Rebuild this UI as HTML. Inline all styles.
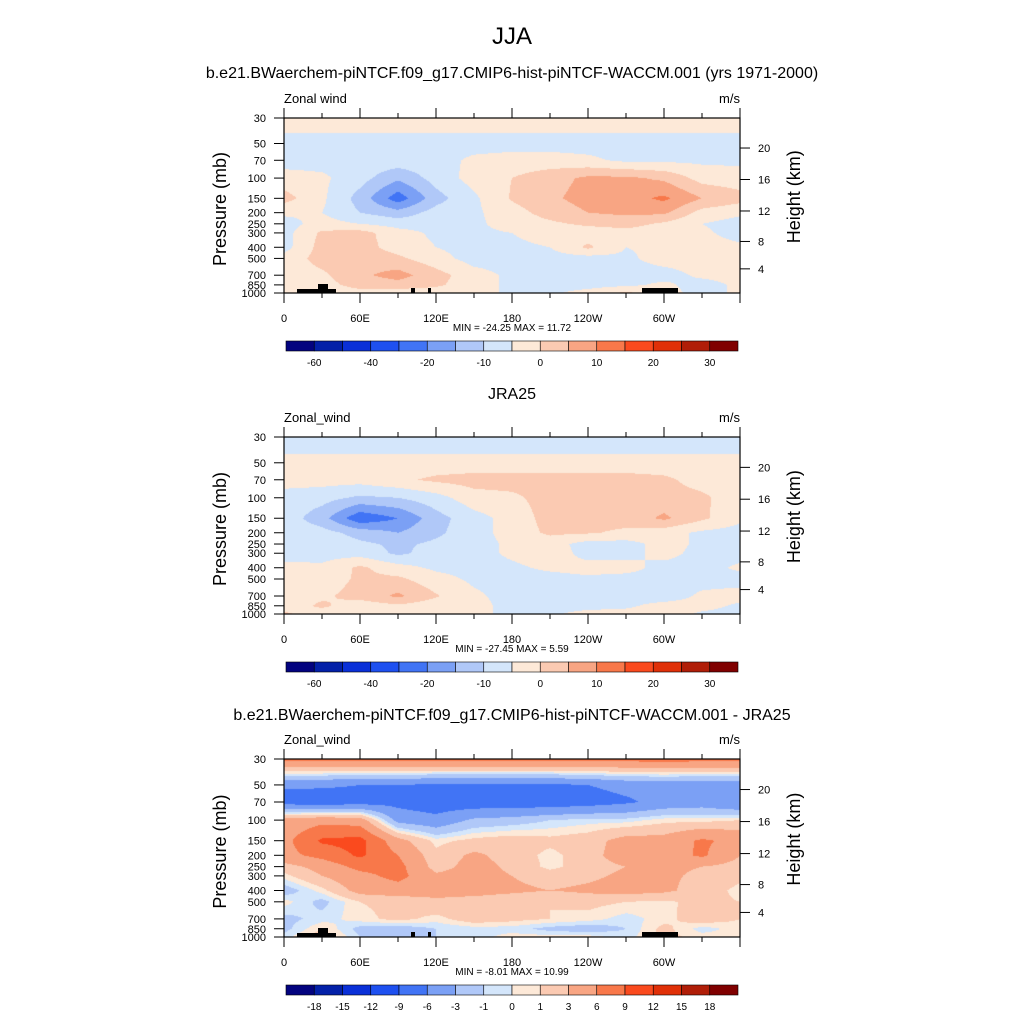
<!DOCTYPE html>
<html><head><meta charset="utf-8">
<style>
html,body{margin:0;padding:0;background:#fff;width:1024px;height:1024px;overflow:hidden}
#root{position:relative;width:1024px;height:1024px}
canvas{position:absolute}
svg{position:absolute;left:0;top:0}
text{font-family:"Liberation Sans",sans-serif;fill:#000}
</style></head>
<body>
<div id="root">
<canvas id="c1" width="456" height="175" style="left:284px;top:118px"></canvas>
<canvas id="c2" width="456" height="177" style="left:284px;top:437px"></canvas>
<canvas id="c3" width="456" height="178" style="left:284px;top:759px"></canvas>
<svg id="svg" width="1024" height="1024"></svg>
</div>
<script>
const LEVELS=[30,50,70,100,150,200,250,300,400,500,700,850,1000];
const LONS=[0,30,60,90,120,150,180,210,240,270,300,330,360];
const XTICKS=[0,60,120,180,240,300];
const XLABELS=["0","60E","120E","180","120W","60W"];
const PTICKS=[30,50,70,100,150,200,250,300,400,500,700,850,1000];
const ZTICKS=[4,8,12,16,20];
const BOUNDS_FULL=[-60,-50,-40,-30,-20,-15,-10,-5,0,5,10,15,20,25,30];
const LABELS_FULL=["-60","","-40","","-20","","-10","","0","","10","","20","","30"];
const BOUNDS_DIFF=[-18,-15,-12,-9,-6,-3,-1,0,1,3,6,9,12,15,18];
const LABELS_DIFF=["-18","-15","-12","-9","-6","-3","-1","0","1","3","6","9","12","15","18"];
const COLORS=["#03037f","#0320a8","#0a30d8","#1e50f0","#4174f5","#7ba0f5","#b0c8f8","#d4e6fb","#fde9d8","#fbcab2","#f8a583","#f8784a","#fa4a1e","#e03008","#b01e08","#800000"];
const uModel=[
[-2,-2,-2,-2,-2,-2,-2,-2,-2,-2,-2,-2,-2],
[-7,-7,-7,-7,-7,-7,-7,-7,-7,-7,-7,-7,-7],
[-7,-7,-7,-7,-7,-4,-3,-3,-4,-6,-6,-6,-6],
[-3,-4,-8,-14,-8,-3,0,3,6,6,4,-2,-3],
[2,-4,-12,-23,-12,-6,0.5,4,7,8,11,5,2],
[-4,-5,-10,-13,-8,-6,-2,2,5,6,6,-2,-4],
[-7,-3,-5,-7,-7,-6,-3,-1,1,2,-1,-5,-7],
[-7,1,2,-3,-6,-6,-5,-3,-3,-2,-3,-4,-7],
[-7,2,2,-2,-5,-7,-6,-5,1,-5,-4,-3,-4],
[-3,2,3,1,-3,-7,-7,-7,-7,-6,-3,-3,-3],
[-3,-1,4,7,2,-3,-6,-7,-7,-7,-7,-4,-3],
[-3,-2,2,3,1,-3,-6,-7,-7,-6,-4,-7,-4],
[-2,-3,-2,-3,-3,-3,-6,-6,-3,1,-3,-7,-4]];
const uJRA=[
[-9,-9,-9,-9,-9,-9,-9,-9,-9,-9,-9,-9,-9],
[-3,-3,-3,-3,-3,-3,-3,-3,-3,-3,-3,-3,-3],
[-3,-3,-3,-1,1,2,2,2,2,2,1,-2,-3],
[-7,-8,-11,-10,-7,-2,-1,2,2,2,2,1,-3],
[-7,-13,-24,-20,-12,-7,-3,2,2,2,6,1,-4],
[-7,-8,-12,-15,-11,-7,-3,1,0.5,-1,-3,-6,-7],
[-7,-6,-9,-11,-9,-7,-4,-3,-7,-7,-3,-6,-7],
[-8,-7,-7,-11,-8,-7,-4,-2,-7,-7,-3,-7,-7],
[-3,-4,1,-3,-6,-7,-6,-4,-3,-3,-7,-7,-4],
[-3,-3,1,1,-3,-6,-7,-7,-6,-7,-7,-7,-7],
[-3,-1,2,6,0.5,-4,-7,-7,-7,-7,-8,-4,-3],
[-3,1,-3,-1,-3,-3,-7,-7,-7,-6,-3,-3,-6],
[1,-3,-3,-3,-3,-4,-6,-6,-3,-3,-2,-6,-7]];
const uDiff=[
[7,7,7,7,7,7,7,7,7,7,7.5,7,7],
[-5.5,-5.5,-6,-6,-6.5,-6.5,-6.5,-6.5,-6,-5,-5,-5,-5],
[-7.5,-8,-7.5,-7,-8,-8,-8,-8,-7.5,-6.5,-5,-4.5,-6],
[4,5,4.5,-4,-5,-2.5,-2,-1,-0.5,-0.5,0.5,0.5,1],
[5,9.5,10,4,0.5,1.5,2,1.5,2,4,4,6.5,5],
[5,7,9.5,6,1.5,3.5,2,0.5,2,4.5,4.5,6.5,3],
[2,4,7,7,2,4,2.5,0.5,2,3,3.5,3,2],
[0.5,3,5,7,3.5,4,3,2,2.5,3.5,3.5,2.5,1.5],
[-2,0.5,4,4.5,4,4,3.5,3,3.5,4,3.5,2,0.5],
[0.5,-1.5,1,1.5,2.5,2,1.5,1,1.5,1,0.7,1.5,1],
[-1.5,-0.5,0.5,1.5,0.5,2,1.5,1,0.5,-0.5,0.5,2,1],
[-1.5,1,-1.5,-2,-1,-0.5,-0.5,-1.5,-2,-1,1.5,-0.5,0.5],
[-0.5,2,-1,-2,-1,-0.5,0.5,0.5,0.5,-0.5,1.5,0.5,0.5]];

const PL=284, PW=456;
const L30=Math.log(30), LR=Math.log(1000/30);
function yFrac(p){return (Math.log(p)-L30)/LR;}
function xPos(lon){return PL+lon/360*PW;}
function zToP(z){const m=z*1000;return m<11000?1013.25*Math.pow(1-2.25577e-5*m,5.25588):226.32*Math.exp(-(m-11000)/6341.6);}
const lf=LEVELS.map(yFrac);
function valAt(data,lon,fr){
  let k=0;while(k<LEVELS.length-2&&fr>lf[k+1])k++;
  let t=(fr-lf[k])/(lf[k+1]-lf[k]);t=Math.max(0,Math.min(1,t));
  let i=Math.min(Math.floor(lon/30),LONS.length-2);let s=(lon-LONS[i])/30;
  const a=data[k][i]*(1-s)+data[k][i+1]*s, b=data[k+1][i]*(1-s)+data[k+1][i+1]*s;
  return a*(1-t)+b*t;
}
function hex(c){return [parseInt(c.slice(1,3),16),parseInt(c.slice(3,5),16),parseInt(c.slice(5,7),16)];}
const RGB=COLORS.map(hex);
function drawField(id,data,bounds){
  const cv=document.getElementById(id),ctx=cv.getContext('2d');
  const W=cv.width,H=cv.height,img=ctx.createImageData(W,H);
  for(let y=0;y<H;y++){const fr=(y+0.5)/H;
    for(let x=0;x<W;x++){const v=valAt(data,(x+0.5)/W*360,fr);
      let ci=0;while(ci<bounds.length&&v>=bounds[ci])ci++;
      const c=RGB[ci],o=(y*W+x)*4;img.data[o]=c[0];img.data[o+1]=c[1];img.data[o+2]=c[2];img.data[o+3]=255;}}
  ctx.putImageData(img,0,0);
}
drawField('c1',uModel,BOUNDS_FULL);
drawField('c2',uJRA,BOUNDS_FULL);
drawField('c3',uDiff,BOUNDS_DIFF);

const NS="http://www.w3.org/2000/svg",svg=document.getElementById('svg');
function mk(tag,attrs,txt){const e=document.createElementNS(NS,tag);for(const k in attrs)e.setAttribute(k,attrs[k]);if(txt!==undefined)e.textContent=txt;svg.appendChild(e);return e;}
function txt(x,y,s,size,anchor,name){const e=mk('text',{x:x,y:y,'font-size':size,'text-anchor':anchor||'middle'},s);

return e;}

let t=txt(512,44,"JJA",24,'middle','main-title');
t=txt(512,78,"b.e21.BWaerchem-piNTCF.f09_g17.CMIP6-hist-piNTCF-WACCM.001 (yrs 1971-2000)",16,'middle','model-panel-title');
t=txt(512,399,"JRA25",16,'middle','jra25-panel-title');
t=txt(512,720,"b.e21.BWaerchem-piNTCF.f09_g17.CMIP6-hist-piNTCF-WACCM.001 - JRA25",16,'middle','difference-panel-title');

const panels=[
 {top:118,h:175,left:"Zonal wind",mm:"MIN = -24.25  MAX =  11.72",bounds:BOUNDS_FULL,labels:LABELS_FULL,topo:true,n:'model'},
 {top:437,h:177,left:"Zonal_wind",mm:"MIN = -27.45  MAX =   5.59",bounds:BOUNDS_FULL,labels:LABELS_FULL,topo:false,n:'jra25'},
 {top:759,h:178,left:"Zonal_wind",mm:"MIN =  -8.01  MAX =  10.99",bounds:BOUNDS_DIFF,labels:LABELS_DIFF,topo:true,n:'difference'}];
panels.forEach(P=>{
  const T=P.top,B=P.top+P.h,R=PL+PW;
  if(P.topo){
    const topo=[[297,B-4,39,4],[318,B-9,10,6],[411,B-5,4,5],[428,B-5,3,5],[642,B-5,36,5]];
    topo.forEach(r=>{const e=mk('rect',{x:r[0],y:r[1],width:r[2],height:r[3],fill:'#000'});
      
      });
  }
  const fr=mk('rect',{x:PL,y:T,width:PW,height:P.h,fill:'none',stroke:'#000','stroke-width':1.2});
  
  
  for(let lon=0;lon<=360;lon+=30){const x=xPos(lon),len=(lon%60===0)?10:5;
    mk('line',{x1:x,y1:B,x2:x,y2:B+len,stroke:'#000','stroke-width':1});
    mk('line',{x1:x,y1:T,x2:x,y2:T-len,stroke:'#000','stroke-width':1});}
  XTICKS.forEach((lon,i)=>{txt(xPos(lon),B+29,XLABELS[i],11,'middle','x-tick-label');});
  PTICKS.forEach(p=>{const y=T+yFrac(p)*P.h;
    mk('line',{x1:PL-10,y1:y,x2:PL,y2:y,stroke:'#000','stroke-width':1});
    txt(PL-18,y+4,String(p),11,'end','pressure-tick-label');});
  ZTICKS.forEach(z=>{const y=T+yFrac(zToP(z))*P.h;
    mk('line',{x1:R,y1:y,x2:R+10,y2:y,stroke:'#000','stroke-width':1});
    txt(R+18,y+4,String(z),11,'start','height-tick-label');});
  txt(PL,T-15,P.left,13,'start','variable-label');
  txt(R,T-15,"m/s",13,'end','units-label');
  const yl=txt(0,0,"Pressure (mb)",18,'middle','y-axis-title');
  yl.setAttribute('transform','translate(226,'+(T+P.h*0.52)+') rotate(-90)');
  const hl=txt(0,0,"Height (km)",18,'middle','right-axis-title');
  hl.setAttribute('transform','translate(800,'+(T+P.h*0.45)+') rotate(-90)');
  txt(512,B+38,P.mm,10,'middle','min-max-label');
  const cy=B+48,bw=452/16;
  COLORS.forEach((c,i)=>{const r=mk('rect',{x:286+i*bw,y:cy,width:bw,height:10,fill:c,stroke:'#000','stroke-width':0.6});
    
    });
  P.labels.forEach((s,i)=>{if(s)txt(286+(i+1)*bw,cy+25,s,10,'middle','colorbar-label');});
});
</script>
</body></html>
